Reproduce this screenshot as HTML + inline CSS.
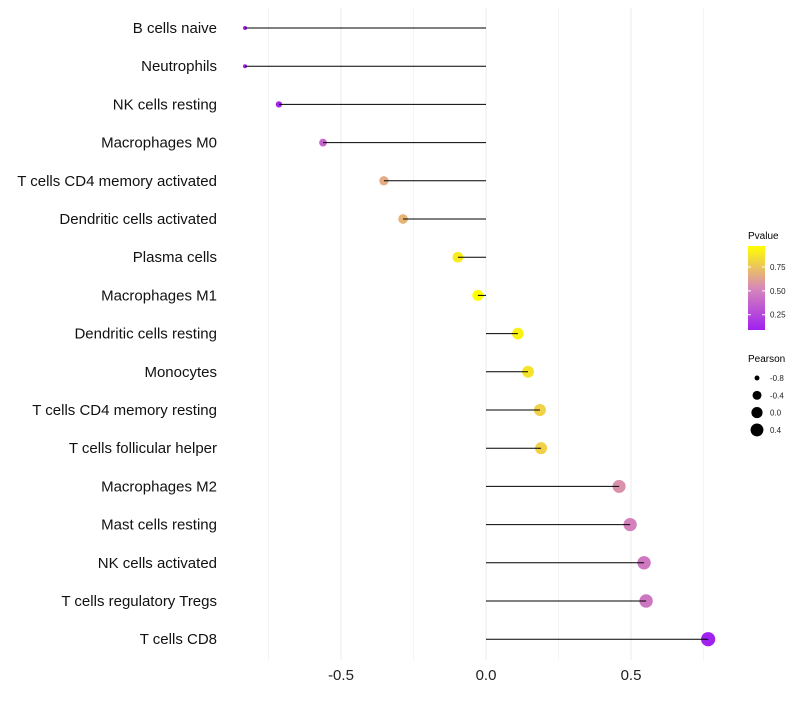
<!DOCTYPE html>
<html><head><meta charset="utf-8"><style>
body{margin:0;background:#fff;width:800px;height:700px;overflow:hidden}
svg text{font-family:"Liberation Sans",sans-serif}
</style></head><body>
<svg id="chart" width="800" height="700" xmlns="http://www.w3.org/2000/svg">
<defs><linearGradient id="pg" x1="0" y1="1" x2="0" y2="0">
<stop offset="0" stop-color="#A020F0"/><stop offset="0.5" stop-color="#D789B8"/><stop offset="1" stop-color="#FFFF00"/>
</linearGradient></defs>
<g id="grid"></g><g id="marks"></g><g id="labels"></g><g id="xaxis"></g>
<g id="legend">
<text x="748" y="239" font-size="10">Pvalue</text>
<rect x="748" y="246" width="17" height="84" fill="url(#pg)"/>
<g id="cbticks"></g>
<text x="748" y="362" font-size="10">Pearson</text>
<g id="sizeleg"></g>
</g>
</svg>
<script>
const categories=["B cells naive","Neutrophils","NK cells resting","Macrophages M0","T cells CD4 memory activated","Dendritic cells activated","Plasma cells","Macrophages M1","Dendritic cells resting","Monocytes","T cells CD4 memory resting","T cells follicular helper","Macrophages M2","Mast cells resting","NK cells activated","T cells regulatory  Tregs","T cells CD8"];
const pearson=[-0.831,-0.831,-0.714,-0.562,-0.352,-0.286,-0.097,-0.028,0.110,0.145,0.186,0.190,0.459,0.497,0.545,0.552,0.766];
const pvalue=[0.05,0.05,0.12,0.38,0.66,0.69,0.9,0.99,0.92,0.87,0.8,0.8,0.56,0.5,0.46,0.45,0.1];
const xTicks=[-0.5,0,0.5];
const xTickLabels=["-0.5","0.0","0.5"];
const xMinor=[-0.75,-0.25,0.25,0.75];
const cbTicks=[0.25,0.5,0.75];
const sizeLegend=[-0.8,-0.4,0.0,0.4];
const NS="http://www.w3.org/2000/svg";
const X=v=>486+v*290;
const Y=i=>28+i*38.2;
const R=p=>1.6+5.5*Math.sqrt(Math.max(0,(p+0.84)/1.6));
const pmin=0.09,pmax=0.97;
const CY=p=>330-(p-pmin)/(pmax-pmin)*84;
function lerp(a,b,t){return a.map((v,k)=>Math.round(v+(b[k]-v)*t));}
function col(p){let t=Math.max(0,Math.min(1,(p-pmin)/(pmax-pmin)));
 const a=[160,32,240],m=[215,137,184],b=[255,255,0];
 const c=t<0.5?lerp(a,m,t/0.5):lerp(m,b,(t-0.5)/0.5);return `rgb(${c})`;}
function mk(tag,at,parent){const e=document.createElementNS(NS,tag);for(const k in at)e.setAttribute(k,at[k]);document.getElementById(parent).appendChild(e);return e;}
xMinor.forEach(v=>{const l=mk('line',{x1:X(v),x2:X(v),y1:8,y2:660,stroke:'#f4f4f4','stroke-width':1},'grid');

});
xTicks.forEach((v,i)=>{const l=mk('line',{x1:X(v),x2:X(v),y1:8,y2:660,stroke:'#ebebeb','stroke-width':1},'grid');


const t=mk('text',{x:X(v),y:680,'font-size':15,'text-anchor':'middle',fill:'#222'},'xaxis');t.textContent=xTickLabels[i];

});
categories.forEach((c,i)=>{
 const t=mk('text',{x:217,y:Y(i)+5,'font-size':15,'text-anchor':'end',fill:'#111','xml:space':'preserve'},'labels');t.textContent=c;
 
 
 const d=mk('circle',{cx:X(pearson[i]),cy:Y(i),r:R(pearson[i]),fill:col(pvalue[i])},'marks');
 
 
 const l=mk('line',{x1:X(0),x2:X(pearson[i]),y1:Y(i),y2:Y(i),stroke:'#000','stroke-width':1},'marks');
 
 
});
cbTicks.forEach(v=>{const y=CY(v);
 mk('line',{x1:748,x2:751,y1:y,y2:y,stroke:'#fff'},'cbticks');mk('line',{x1:762,x2:765,y1:y,y2:y,stroke:'#fff'},'cbticks');
 const t=mk('text',{x:770,y:y+3,'font-size':8,fill:'#222'},'cbticks');t.textContent=v.toFixed(2);
 
 });
sizeLegend.forEach((v,i)=>{const y=378+i*17.3;
 const c=mk('circle',{cx:757,cy:y,r:R(v),fill:'#000'},'sizeleg');
 
 
 const t=mk('text',{x:770,y:y+3,'font-size':8,fill:'#222'},'sizeleg');t.textContent=v.toFixed(1);
 
 });
</script>
</body></html>
